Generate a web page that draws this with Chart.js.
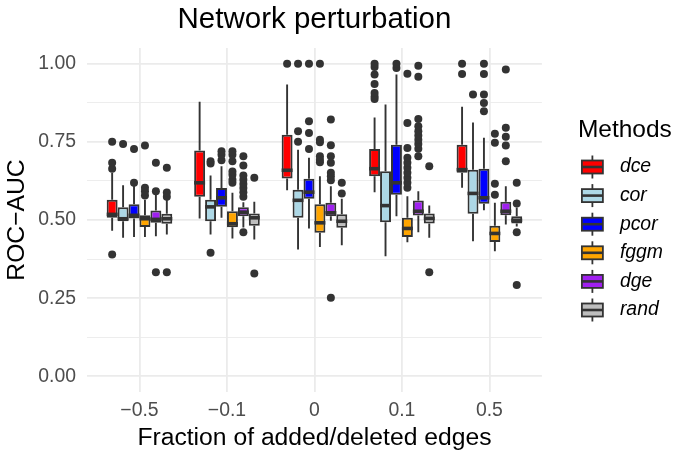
<!DOCTYPE html>
<html>
<head>
<meta charset="utf-8">
<title>Network perturbation</title>
<script src="https://cdn.jsdelivr.net/npm/chart.js@4.4.0/dist/chart.umd.min.js"></script>
<style>
  html, body { margin: 0; padding: 0; background: #ffffff; }
</style>
</head>
<body>
<canvas id="perturbation" width="675" height="454"></canvas>
<script>
const groups = ['\u22120.5', '\u22120.1', '0', '0.1', '0.5'];
const methods = ['dce', 'cor', 'pcor', 'fggm', 'dge', 'rand'];
const methodColors = ['#FF0000', '#ADD8E6', '#0000FF', '#FFA500', '#A020F0', '#BEBEBE'];

// [lower whisker, Q1, median, Q3, upper whisker] per fraction of edges
const dceStats = [
  [0.466, 0.507, 0.518, 0.565, 0.651],
  [0.505, 0.574, 0.619, 0.722, 0.878],
  [0.595, 0.633, 0.659, 0.773, 0.933],
  [0.589, 0.640, 0.664, 0.727, 0.828],
  [0.603, 0.651, 0.661, 0.741, 0.862]
];
const corStats = [
  [0.443, 0.496, 0.504, 0.541, 0.611],
  [0.454, 0.496, 0.542, 0.565, 0.642],
  [0.406, 0.507, 0.563, 0.597, 0.725],
  [0.384, 0.493, 0.546, 0.656, 0.869],
  [0.432, 0.520, 0.585, 0.661, 0.812]
];
const pcorStats = [
  [0.446, 0.505, 0.515, 0.550, 0.611],
  [0.507, 0.542, 0.571, 0.602, 0.672],
  [0.473, 0.568, 0.589, 0.632, 0.699],
  [0.512, 0.581, 0.619, 0.741, 0.965],
  [0.531, 0.552, 0.571, 0.664, 0.763]
];
const fggmStats = [
  [0.446, 0.478, 0.504, 0.515, 0.565],
  [0.441, 0.477, 0.488, 0.528, 0.587],
  [0.414, 0.459, 0.491, 0.550, 0.640],
  [0.429, 0.446, 0.473, 0.507, 0.576],
  [0.400, 0.430, 0.457, 0.482, 0.555]
];
const dgeStats = [
  [0.448, 0.491, 0.502, 0.530, 0.581],
  [0.476, 0.512, 0.525, 0.541, 0.557],
  [0.498, 0.512, 0.523, 0.555, 0.608],
  [0.461, 0.514, 0.528, 0.562, 0.592],
  [0.486, 0.515, 0.528, 0.558, 0.608]
];
const randStats = [
  [0.454, 0.488, 0.504, 0.520, 0.565],
  [0.438, 0.482, 0.507, 0.521, 0.558],
  [0.419, 0.475, 0.496, 0.518, 0.568],
  [0.443, 0.489, 0.505, 0.521, 0.546],
  [0.479, 0.489, 0.499, 0.512, 0.540]
];

// points beyond the whiskers
const dceOutliers = [
  [0.390, 0.664, 0.683, 0.750],
  [],
  [1.0],
  [0.887, 0.895, 0.906, 0.935, 0.965, 0.989, 1.0],
  [0.967, 1.0]
];
const corOutliers = [
  [0.743],
  [0.395, 0.681, 0.688],
  [0.750, 0.784, 1.0],
  [],
  [0.901]
];
const pcorOutliers = [
  [0.619, 0.727],
  [0.691, 0.709, 0.720],
  [0.727, 0.778, 0.816, 1.0],
  [0.986, 1.0],
  [0.848, 0.874, 0.901, 0.967, 1.0]
];
const fggmOutliers = [
  [0.578, 0.592, 0.603, 0.738],
  [0.619, 0.629, 0.645, 0.655, 0.688, 0.709, 0.720],
  [0.685, 0.693, 0.704, 0.749, 0.757, 1.0],
  [0.603, 0.619, 0.635, 0.651, 0.667, 0.683, 0.699, 0.730, 0.810, 0.968],
  [0.581, 0.616, 0.747, 0.776]
];
const dgeOutliers = [
  [0.333, 0.592, 0.683],
  [0.461, 0.574, 0.589, 0.602, 0.615, 0.629, 0.642, 0.674, 0.704],
  [0.251, 0.627, 0.640, 0.651, 0.683, 0.704, 0.739, 0.821],
  [0.704, 0.728, 0.743, 0.757, 0.770, 0.784, 0.800, 0.823, 0.958, 0.993],
  [0.688, 0.738, 0.766, 0.795, 0.981]
];
const randOutliers = [
  [0.333, 0.574, 0.588, 0.667],
  [0.329, 0.635],
  [0.585, 0.619],
  [0.333, 0.672],
  [0.292, 0.461, 0.553, 0.619]
];

const yTicks = [0, 0.125, 0.25, 0.375, 0.5, 0.625, 0.75, 0.875, 1];

const statsByMethod = [dceStats, corStats, pcorStats, fggmStats, dgeStats, randStats];
const outliersByMethod = [dceOutliers, corOutliers, pcorOutliers, fggmOutliers, dgeOutliers, randOutliers];

const INK = '#333333';
const GRID = '#EBEBEB';
const isMajor = v => Math.abs(v * 4 - Math.round(v * 4)) < 1e-9;

Chart.defaults.font.family = "'Liberation Sans', Arial, sans-serif";

// whiskers, medians and outlying points on top of the Q1-Q3 bars
const boxplotExtras = {
  id: 'boxplotExtras',
  afterDatasetsDraw(chart) {
    const ctx = chart.ctx;
    const y = chart.scales.y;
    ctx.save();
    chart.data.datasets.forEach((ds, i) => {
      chart.getDatasetMeta(i).data.forEach((bar, j) => {
        const [lo, q1, med, q3, hi] = ds.stats[j];
        const half = bar.width / 2;
        ctx.strokeStyle = INK;
        ctx.lineWidth = 1.9;
        ctx.beginPath();
        ctx.moveTo(bar.x, y.getPixelForValue(q3));
        ctx.lineTo(bar.x, y.getPixelForValue(hi));
        ctx.moveTo(bar.x, y.getPixelForValue(q1));
        ctx.lineTo(bar.x, y.getPixelForValue(lo));
        ctx.stroke();

        const ym = y.getPixelForValue(med);
        ctx.lineWidth = 3.6;
        ctx.beginPath();
        ctx.moveTo(bar.x - half, ym);
        ctx.lineTo(bar.x + half, ym);
        ctx.stroke();

        ctx.fillStyle = INK;
        ds.outliers[j].forEach(v => {
          ctx.beginPath();
          ctx.arc(bar.x, y.getPixelForValue(v), 4, 0, Math.PI * 2);
          ctx.fill();
        });
      });
    });
    ctx.restore();
  }
};

// small boxplot glyphs as legend keys
const legendKeys = {
  id: 'legendKeys',
  afterDraw(chart) {
    const legend = chart.legend;
    const ctx = chart.ctx;
    ctx.save();
    legend.legendHitBoxes.forEach((hb, i) => {
      const cx = legend.left + 14.5;
      const cy = hb.top + hb.height / 2;
      ctx.strokeStyle = INK;
      ctx.lineWidth = 1.8;
      ctx.beginPath();
      ctx.moveTo(cx, cy - 11.5);
      ctx.lineTo(cx, cy + 11.5);
      ctx.stroke();
      ctx.fillStyle = methodColors[i];
      ctx.fillRect(cx - 10.5, cy - 6.5, 21, 13);
      ctx.strokeRect(cx - 10.5, cy - 6.5, 21, 13);
      ctx.lineWidth = 2.6;
      ctx.beginPath();
      ctx.moveTo(cx - 10.5, cy);
      ctx.lineTo(cx + 10.5, cy);
      ctx.stroke();
    });
    ctx.restore();
  }
};

new Chart(document.getElementById('perturbation'), {
  type: 'bar',
  data: {
    datasets: methods.map((m, i) => ({
      label: m,
      data: statsByMethod[i].map((s, j) => ({ x: j + 1, y: [s[1], s[3]] })),
      stats: statsByMethod[i],
      outliers: outliersByMethod[i],
      backgroundColor: methodColors[i],
      borderColor: INK,
      borderWidth: 2,
      borderSkipped: false,
      categoryPercentage: 0.75,
      barPercentage: 1
    }))
  },
  options: {
    responsive: false,
    animation: false,
    events: [],
    layout: { padding: { left: 0, top: 0, bottom: 0, right: 2 } },
    scales: {
      x: {
        type: 'linear',
        min: 0.4,
        max: 5.6,
        offset: false,
        afterBuildTicks: s => { s.ticks = groups.map((g, i) => ({ value: i + 1 })); },
        afterFit: s => { s.height = 62; },
        ticks: {
          callback: v => groups[v - 1],
          autoSkip: false,
          maxRotation: 0,
          padding: 7.4,
          color: '#4D4D4D',
          font: { size: 19.4 }
        },
        grid: { color: GRID, lineWidth: 1.8, drawTicks: false, offset: false },
        border: { display: false },
        title: {
          display: true,
          text: 'Fraction of added/deleted edges',
          color: '#000000',
          font: { size: 24.7 },
          padding: { top: 0, bottom: 1.2 }
        }
      },
      y: {
        min: -0.05,
        max: 1.05,
        afterBuildTicks: s => { s.ticks = yTicks.map(v => ({ value: v })); },
        afterFit: s => { s.width = 87; },
        ticks: {
          callback: v => (isMajor(v) ? v.toFixed(2) : ''),
          autoSkip: false,
          padding: 11,
          color: '#4D4D4D',
          font: { size: 19.4 }
        },
        grid: {
          color: GRID,
          lineWidth: c => (c.tick && isMajor(c.tick.value) ? 1.8 : 0.9),
          drawTicks: false
        },
        border: { display: false },
        title: {
          display: true,
          text: 'ROC\u2212AUC',
          color: '#000000',
          font: { size: 24.7 },
          padding: { top: 2.7, bottom: 0 }
        }
      },
      gap: {
        type: 'linear',
        position: 'right',
        display: true,
        afterFit: s => { s.width = 36; },
        ticks: { display: false },
        grid: { display: false },
        border: { display: false }
      }
    },
    plugins: {
      title: {
        display: true,
        text: 'Network perturbation',
        fullSize: false,
        color: '#000000',
        font: { size: 29.5, weight: 'normal' },
        padding: { top: 2.3, bottom: 10.3 }
      },
      legend: {
        position: 'right',
        align: 'start',
        title: {
          display: true,
          text: 'Methods',
          position: 'start',
          color: '#000000',
          font: { size: 24.5 },
          padding: { top: 117.75, bottom: 5.55 }
        },
        labels: {
          boxWidth: 32.3,
          boxHeight: 28.6,
          padding: 0,
          color: '#000000',
          font: { size: 19.4, style: 'italic' },
          generateLabels: () => methods.map((m, i) => ({
            text: m,
            fillStyle: 'rgba(0,0,0,0)',
            strokeStyle: 'rgba(0,0,0,0)',
            lineWidth: 0,
            hidden: false,
            datasetIndex: i
          }))
        }
      },
      tooltip: { enabled: false }
    }
  },
  plugins: [boxplotExtras, legendKeys]
});
</script>
</body>
</html>
